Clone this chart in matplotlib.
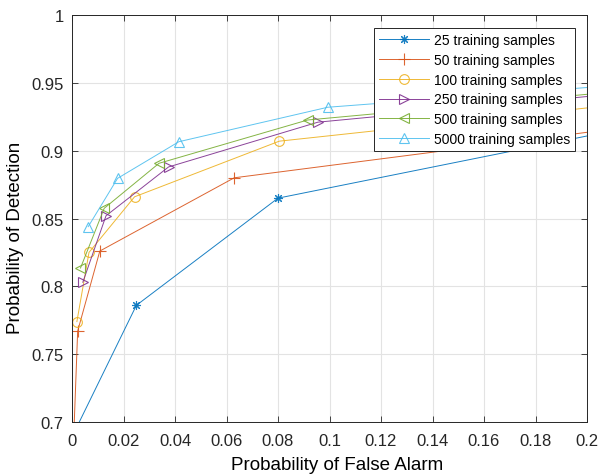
import matplotlib
matplotlib.use("Agg")
import matplotlib.pyplot as plt

plt.rcParams['font.family'] = ['Liberation Sans', 'DejaVu Sans']

labels = ["25 training samples", "50 training samples", "100 training samples",
          "250 training samples", "500 training samples", "5000 training samples"]

pfa_25 = [0.0, 0.025, 0.08, 0.30]
pd_25 = [0.689, 0.786, 0.865, 0.949]

pfa_50 = [0.0, 0.0022, 0.0108, 0.063, 0.30]
pd_50 = [0.655, 0.767, 0.826, 0.880, 0.938]

pfa_100 = [0.0019, 0.0066, 0.0243, 0.0805, 0.30]
pd_100 = [0.774, 0.825, 0.866, 0.907, 0.952]

pfa_250 = [0.0042, 0.0132, 0.0375, 0.0955, 0.30]
pd_250 = [0.803, 0.852, 0.888, 0.921, 0.958]

pfa_500 = [0.0033, 0.0125, 0.0338, 0.0915, 0.30]
pd_500 = [0.8135, 0.8575, 0.8907, 0.9226, 0.959]

pfa_5000 = [0.0063, 0.0177, 0.0415, 0.0993, 0.30]
pd_5000 = [0.844, 0.8796, 0.9066, 0.932, 0.961]

series = [(pfa_25, pd_25), (pfa_50, pd_50), (pfa_100, pd_100),
          (pfa_250, pd_250), (pfa_500, pd_500), (pfa_5000, pd_5000)]
colors = ['#0072BD', '#D95319', '#EDB120', '#7E2F8E', '#77AC30', '#4DBEEE']
markers = [(8, 2, 0), '+', 'o', '>', '<', '^']
msizes = [6.5, 8, 7, 7.5, 7.5, 7.5]

xticks = [0, 0.02, 0.04, 0.06, 0.08, 0.1, 0.12, 0.14, 0.16, 0.18, 0.2]
xticklabels = ['0', '0.02', '0.04', '0.06', '0.08', '0.1', '0.12', '0.14', '0.16', '0.18', '0.2']
yticks = [0.7, 0.75, 0.8, 0.85, 0.9, 0.95, 1.0]
yticklabels = ['0.7', '0.75', '0.8', '0.85', '0.9', '0.95', '1']

fig = plt.figure(figsize=(5.98, 4.77), dpi=100)
ax = fig.add_axes([72/598, 1-423/477, (587-72)/598, (423-16)/477])

for (x, y), c, m, ms, lab in zip(series, colors, markers, msizes, labels):
    ax.plot(x, y, color=c, marker=m, markersize=ms, markerfacecolor='none',
            markeredgecolor=c, markeredgewidth=0.8, linewidth=0.7, label=lab,
            alpha=0.9)

ax.set_xlim(0, 0.2)
ax.set_ylim(0.7, 1.0)
ax.set_xticks(xticks)
ax.set_xticklabels(xticklabels)
ax.set_yticks(yticks)
ax.set_yticklabels(yticklabels)
ax.grid(True, color='#e3e3e3', linewidth=0.8)
ax.set_axisbelow(True)
ax.tick_params(direction='in', top=True, right=True, length=4, width=0.6,
               colors='#262626', labelsize=12)
ax.tick_params(axis='x', pad=8)
ax.tick_params(axis='y', pad=6)
for s in ax.spines.values():
    s.set_color('#262626')
    s.set_linewidth(0.7)

ax.set_xlabel('Probability of False Alarm', fontsize=13.5, color='#000000')
ax.set_ylabel('Probability of Detection', fontsize=13.5, color='#000000')
ax.xaxis.label.set_verticalalignment('center')
ax.yaxis.label.set_verticalalignment('center')
ax.xaxis.set_label_coords((337.5 - 72) / 515, -(466 - 423) / 407)
ax.yaxis.set_label_coords((16 - 72) / 515, 1 - (238 - 16) / 407)

leg = ax.legend(loc='upper right', bbox_to_anchor=((575-72)/515, 1-(29-16)/407),
                borderaxespad=0, fontsize=10, frameon=True, fancybox=False,
                edgecolor='#262626', framealpha=1, handlelength=3.6,
                handletextpad=0.35, labelspacing=0.42, borderpad=0.35)
leg.get_frame().set_linewidth(0.7)

fig.savefig('out.png', dpi=100)
